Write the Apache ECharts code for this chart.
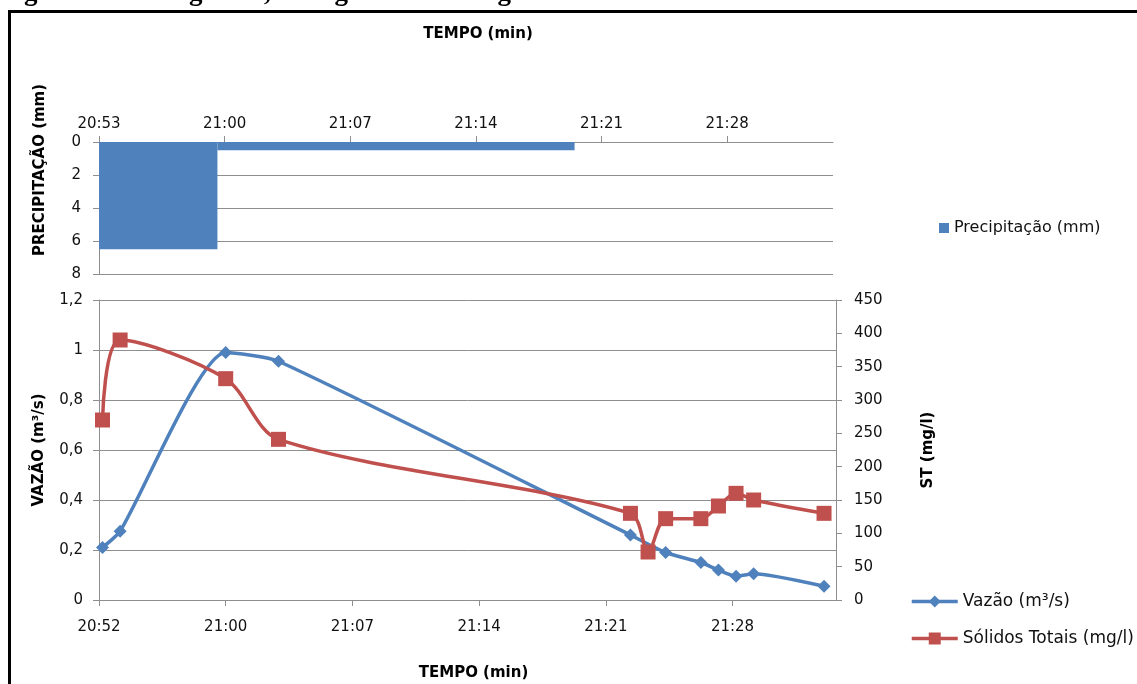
<!DOCTYPE html>
<html>
<head>
<meta charset="utf-8">
<script src="https://cdn.jsdelivr.net/npm/echarts@6/dist/echarts.min.js"></script>
<style>
html,body{margin:0;padding:0;background:#fff;}
#chart{width:1137px;height:684px;}
</style>
</head>
<body>
<div id="chart"></div>
<script>
// ---- Data ----
const figureCaption = 'Figura 2: Polutograma, hietograma e hidrograma do evento de 07/12/2014.';

// Hietograma (precipitação, mm) – blocks of rain
const precipStart = ['20:53:00', '20:59:36'];
const precipEnd   = ['20:59:36', '21:19:30'];
const precipMm    = [6.5, 0.5];

// Hidrograma (vazão, m³/s)
const vazaoTimes = ['20:53', '20:54', '21:00', '21:03', '21:23', '21:25', '21:27', '21:28', '21:29', '21:30', '21:34'];
const vazaoValues = [0.21, 0.275, 0.99, 0.955, 0.26, 0.19, 0.15, 0.12, 0.095, 0.105, 0.055];

// Polutograma (sólidos totais, mg/l)
const stTimes = ['20:53', '20:54', '21:00', '21:03', '21:23', '21:24', '21:25', '21:27', '21:28', '21:29', '21:30', '21:34'];
const stValues = [270, 390, 332, 241, 130, 72, 122, 122, 141, 160, 150, 130];

// Tick positions (time of day) for both time axes
const topTicks = ['20:53', '21:00', '21:07', '21:14', '21:21', '21:28'];
const bottomTicks = ['20:52:48', '21:00:00', '21:07:12', '21:14:24', '21:21:36', '21:28:48'];

// ---- Helpers ----
function toMin(s) {
  const p = s.split(':').map(Number);
  return p[0] * 60 + p[1] + (p[2] || 0) / 60;
}
function fmtTime(v) {
  const m = Math.floor(v + 1e-6);
  const h = Math.floor(m / 60);
  const mm = m % 60;
  return h + ':' + (mm < 10 ? '0' : '') + mm;
}
function fmtComma(v) { return String(+v.toFixed(2)).replace('.', ','); }

const BLUE = '#4F81BD';
const RED = '#C0504D';
const GRID = '#8E8E8E';
const FONT = 'DejaVu Sans';

const precipData = precipMm.map((v, i) => [toMin(precipStart[i]), toMin(precipEnd[i]), v]);
const vazaoData = vazaoTimes.map((t, i) => [toMin(t), vazaoValues[i]]);
const stData = stTimes.map((t, i) => [toMin(t), stValues[i]]);

const topTickVals = topTicks.map(toMin);
const bottomTickVals = bottomTicks.map(toMin);

const axisLine = { show: true, lineStyle: { color: GRID, width: 1 } };
const labelStyle = { color: '#111', fontSize: 15, fontFamily: FONT };
const nameStyle = { color: '#000', fontSize: 15, fontWeight: 'bold', fontFamily: FONT };

const chart = echarts.init(document.getElementById('chart'), null, { renderer: 'canvas' });

const option = {
  animation: false,
  backgroundColor: '#fff',
  textStyle: { fontFamily: FONT },
  grid: [
    { left: 99, top: 142, width: 734, height: 132 },
    { left: 99, top: 300, width: 737, height: 300 }
  ],
  xAxis: [
    {
      gridIndex: 0, type: 'value', position: 'top',
      min: toMin('20:53'), max: toMin('20:53') + 40.9,
      axisLine: axisLine,
      axisTick: { show: true, length: 6, lineStyle: { color: GRID }, customValues: topTickVals },
      axisLabel: Object.assign({ customValues: topTickVals, formatter: fmtTime, margin: 10 }, labelStyle),
      splitLine: { show: false },
      name: 'TEMPO (min)', nameLocation: 'middle', nameGap: 100,
      nameTextStyle: Object.assign({ padding: [0, 0, 0, 24] }, nameStyle)
    },
    {
      gridIndex: 1, type: 'value', position: 'bottom',
      min: toMin('20:52:48'), max: toMin('20:52:48') + 41.88,
      axisLine: axisLine,
      axisTick: { show: true, length: 6, lineStyle: { color: GRID }, customValues: bottomTickVals },
      axisLabel: Object.assign({ customValues: bottomTickVals, formatter: fmtTime, margin: 20 }, labelStyle),
      splitLine: { show: false },
      name: 'TEMPO (min)', nameLocation: 'middle', nameGap: 66,
      nameTextStyle: Object.assign({ padding: [0, 0, 0, 12] }, nameStyle)
    }
  ],
  yAxis: [
    {
      gridIndex: 0, type: 'value', inverse: true, min: 0, max: 8, interval: 2,
      axisLine: axisLine,
      axisTick: { show: true, length: 6, lineStyle: { color: GRID } },
      axisLabel: Object.assign({ margin: 18 }, labelStyle),
      splitLine: { show: true, lineStyle: { color: GRID, width: 1 } }
    },
    {
      gridIndex: 1, type: 'value', min: 0, max: 1.2, interval: 0.2,
      axisLine: axisLine,
      axisTick: { show: true, length: 6, lineStyle: { color: GRID } },
      axisLabel: Object.assign({ margin: 16, formatter: fmtComma }, labelStyle),
      splitLine: { show: true, lineStyle: { color: GRID, width: 1 } },
      name: 'VAZÃO (m³/s)', nameLocation: 'middle', nameGap: 52, nameRotate: 90, nameTextStyle: nameStyle
    },
    {
      gridIndex: 1, type: 'value', position: 'right', min: 0, max: 450, interval: 50,
      axisLine: axisLine,
      axisTick: { show: true, length: 6, lineStyle: { color: GRID } },
      axisLabel: Object.assign({ margin: 18 }, labelStyle),
      splitLine: { show: false },
      name: 'ST (mg/l)', nameLocation: 'middle', nameGap: 85, nameRotate: 90, nameTextStyle: nameStyle
    }
  ],
  legend: [
    {
      data: [{ name: 'Precipitação (mm)', icon: 'rect' }],
      left: 934, top: 215, itemWidth: 10, itemHeight: 10,
      textStyle: { fontSize: 16, color: '#111', fontFamily: FONT }
    },
    {
      data: ['Vazão (m³/s)', 'Sólidos Totais (mg/l)'],
      orient: 'vertical', left: 905, top: 588, itemWidth: 46, itemHeight: 15, itemGap: 20,
      lineStyle: { width: 3.5 },
      textStyle: { fontSize: 17, color: '#111', fontFamily: FONT }
    }
  ],
  series: [
    {
      name: 'Precipitação (mm)', type: 'custom',
      xAxisIndex: 0, yAxisIndex: 0,
      itemStyle: { color: BLUE },
      encode: { x: [0, 1], y: 2 },
      data: precipData,
      renderItem: function (params, api) {
        const p0 = api.coord([api.value(0), 0]);
        const p1 = api.coord([api.value(1), api.value(2)]);
        return {
          type: 'rect',
          shape: { x: p0[0], y: Math.min(p0[1], p1[1]), width: p1[0] - p0[0], height: Math.abs(p1[1] - p0[1]) },
          style: { fill: BLUE }
        };
      }
    },
    {
      name: 'Vazão (m³/s)', type: 'line',
      xAxisIndex: 1, yAxisIndex: 1,
      data: vazaoData, smooth: 0.2,
      symbol: 'diamond', symbolSize: 13,
      lineStyle: { color: BLUE, width: 3.5 },
      itemStyle: { color: BLUE }
    },
    {
      name: 'Sólidos Totais (mg/l)', type: 'line',
      xAxisIndex: 1, yAxisIndex: 2,
      data: stData, smooth: 0.3,
      symbol: 'rect', symbolSize: 15,
      lineStyle: { color: RED, width: 3.5 },
      itemStyle: { color: RED }
    }
  ],
  graphic: [
    {
      type: 'text', left: 0, top: -20,
      style: { text: figureCaption, font: 'bold 27px "Liberation Serif"', fill: '#000' }
    },
    {
      type: 'rect', shape: { x: 9.5, y: 11.5, width: 1200, height: 800 },
      style: { fill: 'none', stroke: '#000', lineWidth: 3 }
    },
    {
      type: 'text', x: 40, y: 170, rotation: Math.PI / 2,
      style: { text: 'PRECIPITAÇÃO (mm)', font: 'bold 15px "DejaVu Sans"', fill: '#000', align: 'center', verticalAlign: 'middle' }
    }
  ]
};

chart.setOption(option);
</script>
</body>
</html>
